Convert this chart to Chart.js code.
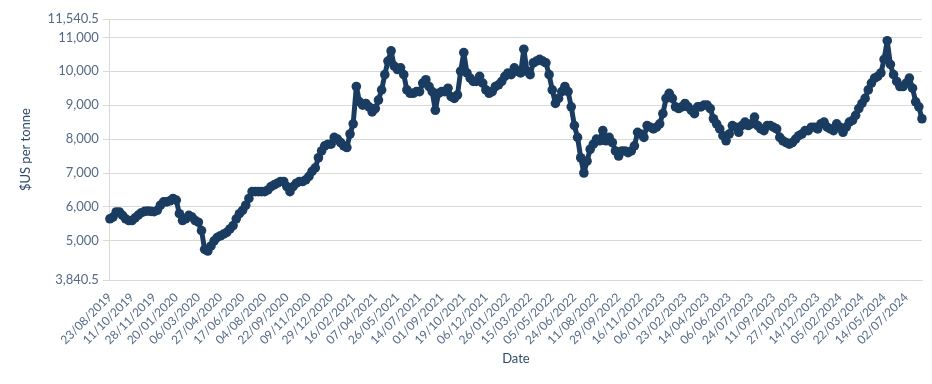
<!DOCTYPE html>
<html>
<head>
<meta charset="utf-8">
<title>Copper price</title>
<script src="https://cdn.jsdelivr.net/npm/chart.js@4.4.1/dist/chart.umd.min.js"></script>
<style>
    html, body { margin: 0; padding: 0; background: #ffffff; }
    #wrap { width: 932px; height: 384px; }
</style>
</head>
<body>
<div id="wrap"><canvas id="myChart"></canvas></div>
<script>
// Dates shown on the x axis (one every seven points)
const tickDates = [
    '23/08/2019', '11/10/2019', '28/11/2019', '20/01/2020', '06/03/2020', '27/04/2020',
    '17/06/2020', '04/08/2020', '22/09/2020', '09/11/2020', '29/12/2020', '16/02/2021',
    '07/04/2021', '26/05/2021', '14/07/2021', '01/09/2021', '19/10/2021', '06/12/2021',
    '26/01/2022', '15/03/2022', '05/05/2022', '24/06/2022', '11/08/2022', '29/09/2022',
    '16/11/2022', '06/01/2023', '23/02/2023', '14/04/2023', '06/06/2023', '24/07/2023',
    '11/09/2023', '27/10/2023', '14/12/2023', '05/02/2024', '22/03/2024', '14/05/2024',
    '02/07/2024'
];

// Dates after the last labelled tick
const tailDates = ['09/07/2024', '16/07/2024', '23/07/2024', '30/07/2024', '06/08/2024'];

// Price, $US per tonne (about one value a week)
const prices = [
    5650, 5700, 5850, 5850, 5750, 5650, 5600,
    5600, 5680, 5760, 5830, 5870, 5880, 5870,
    5860, 5900, 6050, 6150, 6150, 6180, 6250,
    6200, 5800, 5600, 5650, 5750, 5700, 5600,
    5550, 5300, 4750, 4700, 4850, 5000, 5100,
    5150, 5200, 5250, 5350, 5450, 5650, 5800,
    5900, 6050, 6250, 6450, 6450, 6450, 6450,
    6450, 6500, 6600, 6650, 6700, 6750, 6750,
    6600, 6450, 6600, 6700, 6750, 6750, 6800,
    6900, 7050, 7150, 7450, 7650, 7800, 7850,
    7850, 8050, 8000, 7900, 7800, 7750, 8150,
    8450, 9550, 9100, 9000, 9050, 8950, 8800,
    8900, 9150, 9450, 9900, 10300, 10600, 10150,
    10050, 10100, 9900, 9450, 9350, 9350, 9400,
    9400, 9650, 9750, 9550, 9400, 8850, 9350,
    9400, 9400, 9500, 9250, 9200, 9300, 10000,
    10550, 9950, 9800, 9700, 9700, 9850, 9650,
    9450, 9350, 9400, 9550, 9600, 9700, 9850,
    9950, 9900, 10100, 10000, 9950, 10650, 10000,
    9900, 10250, 10300, 10350, 10300, 10250, 9900,
    9450, 9050, 9200, 9400, 9550, 9400, 8950,
    8400, 8050, 7450, 7000, 7350, 7700, 7850,
    8000, 7950, 8250, 7950, 8050, 7900, 7650,
    7500, 7650, 7650, 7600, 7650, 7800, 8200,
    8150, 8050, 8400, 8350, 8300, 8350, 8450,
    8750, 9200, 9350, 9200, 8950, 8900, 8950,
    9050, 8950, 8850, 8750, 8950, 8950, 9000,
    9000, 8900, 8600, 8450, 8300, 8100, 7950,
    8150, 8400, 8350, 8200, 8400, 8500, 8400,
    8450, 8650, 8400, 8300, 8250, 8400, 8400,
    8350, 8300, 8050, 7950, 7900, 7850, 7900,
    8000, 8100, 8150, 8250, 8250, 8350, 8350,
    8300, 8450, 8500, 8350, 8300, 8250, 8450,
    8350, 8200, 8350, 8500, 8550, 8700, 8900,
    9050, 9200, 9450, 9650, 9800, 9850, 9950,
    10350, 10900, 10200, 9900, 9700, 9550, 9550,
    9650, 9800, 9500, 9100, 8950, 8600
];

const yTicks = [3840.5, 5000, 6000, 7000, 8000, 9000, 10000, 11000, 11540.5];
const STEP = 7;

function parseDate(s)
{
    const [d, m, y] = s.split('/').map(Number);
    return new Date(Date.UTC(y, m - 1, d));
}

function formatDate(dt)
{
    const d = String(dt.getUTCDate()).padStart(2, '0');
    const m = String(dt.getUTCMonth() + 1).padStart(2, '0');
    return `${d}/${m}/${dt.getUTCFullYear()}`;
}

// weekly categories between the labelled dates
const labels = [];
for (let i = 0; i < tickDates.length - 1; i++) {
    const a = parseDate(tickDates[i]);
    const b = parseDate(tickDates[i + 1]);
    labels.push(tickDates[i]);
    for (let j = 1; j < STEP; j++) {
        labels.push(formatDate(new Date(a.getTime() + (b - a) * j / STEP)));
    }
}
labels.push(tickDates[tickDates.length - 1], ...tailDates);

const navy = '#1a3c61';
const tickColor = '#566a86';
const gridColor = '#d9d9d9';
const font = { family: 'Lato, "Open Sans", sans-serif', size: 13 };

const ctx = document.getElementById('myChart').getContext('2d');
new Chart(ctx, {
    type: 'line',
    data: {
        labels: labels,
        datasets: [{
            label: '$US per tonne',
            data: prices,
            borderColor: navy,
            borderWidth: 5,
            borderJoinStyle: 'round',
            borderCapStyle: 'round',
            pointRadius: 4.8,
            pointBackgroundColor: navy,
            pointBorderColor: navy,
            pointBorderWidth: 0,
            tension: 0,
        }],
    },
    options: {
        responsive: true,
        maintainAspectRatio: false,
        animation: false,
        layout: { padding: { left: 14, right: 10, top: 19, bottom: 13 } },
        plugins: {
            legend: { display: false },
            tooltip: { enabled: false },
        },
        scales: {
            x: {
                grid: { display: false },
                border: { display: true, color: gridColor },
                afterBuildTicks: (scale) => {
                    scale.ticks = scale.ticks.filter(t => t.value % STEP === 0);
                },
                ticks: {
                    autoSkip: false,
                    minRotation: 45,
                    maxRotation: 45,
                    padding: 2,
                    color: tickColor,
                    font: { family: font.family, size: 12 },
                },
                title: {
                    display: true,
                    text: 'Date',
                    color: '#2d4b6b',
                    font: { family: font.family, size: 13 },
                    padding: { top: 2 },
                },
            },
            y: {
                min: 3840.5,
                max: 11540.5,
                grid: { color: gridColor, tickLength: 7 },
                border: { display: true, color: gridColor },
                afterBuildTicks: (scale) => {
                    scale.ticks = yTicks.map(v => ({ value: v }));
                },
                ticks: {
                    color: tickColor,
                    font: font,
                    padding: 4,
                    callback: (v) => Number(v).toLocaleString('en-US', { maximumFractionDigits: 1 }),
                },
                title: {
                    display: true,
                    text: '$US per tonne',
                    color: '#2d4b6b',
                    font: { family: font.family, size: 13 },
                    padding: { bottom: 10 },
                },
            },
        },
    },
});
</script>
</body>
</html>
